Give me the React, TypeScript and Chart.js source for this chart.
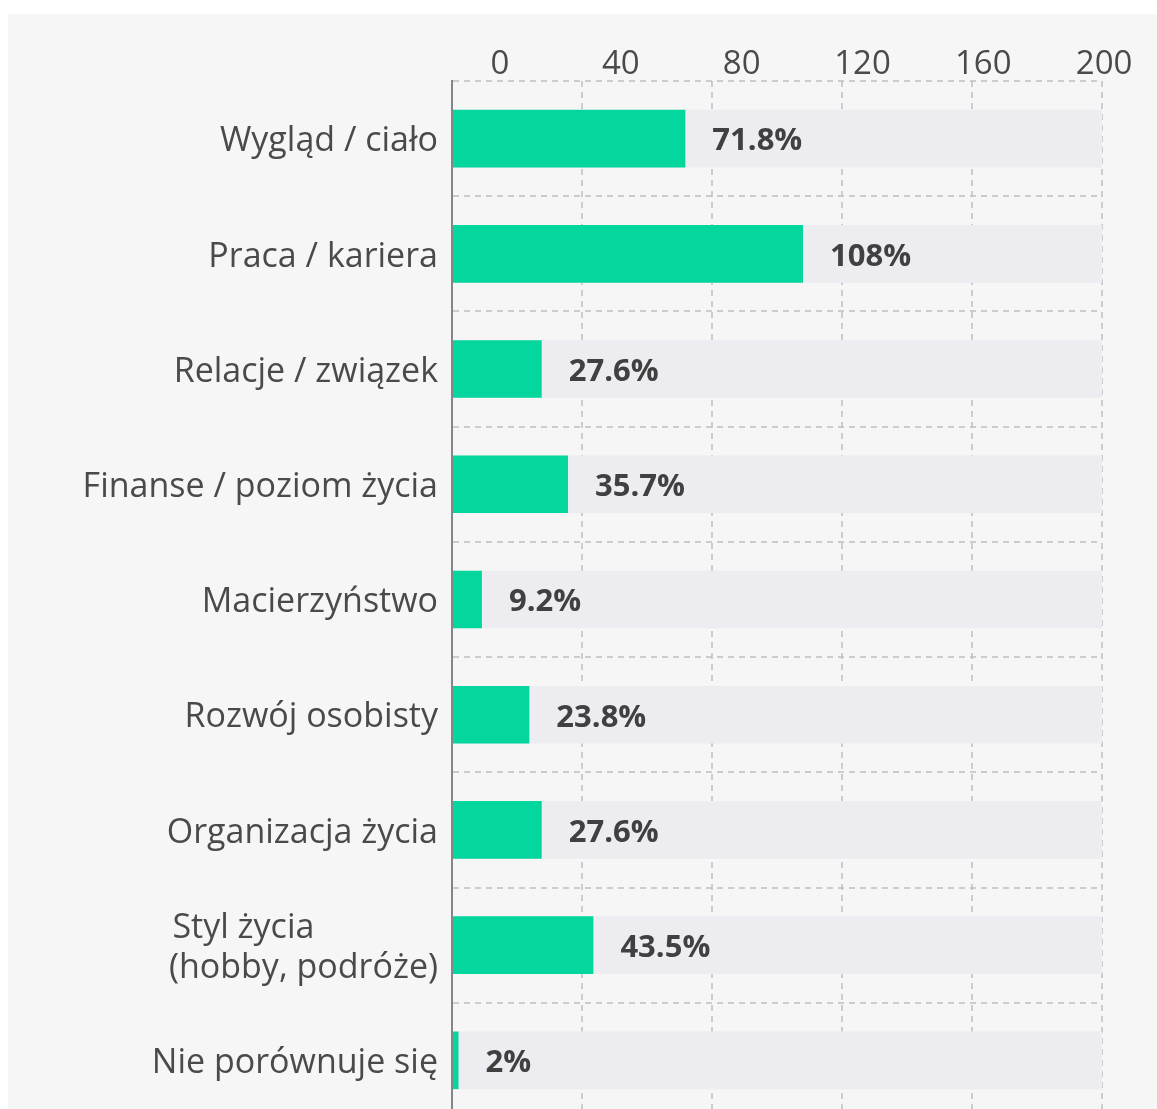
import React, { useEffect, useRef } from "react";
import { Chart, registerables } from "chart.js";

Chart.register(...registerables);

const categories: (string | string[])[] = [
  "Wygląd / ciało",
  "Praca / kariera",
  "Relacje / związek",
  "Finanse / poziom życia",
  "Macierzyństwo",
  "Rozwój osobisty",
  "Organizacja życia",
  ["Styl życia              ", "(hobby, podróże)"],
  "Nie porównuje się",
];
const values = [71.8, 108, 27.6, 35.7, 9.2, 23.8, 27.6, 43.5, 2];
const trackValues = [200, 200, 200, 200, 200, 200, 200, 200, 200];
const xTickValues = [0, 40, 80, 120, 160, 200];

const FONT = "'Open Sans', sans-serif";
const GREEN = "#05d69e";
const TRACK = "#ececf1";
const GRID = "rgba(190,190,195,0.75)";
const TEXT = "#4a4a4a";

const valueLabels = {
  id: "valueLabels",
  afterDraw(chart: any) {
    const ctx = chart.ctx;
    const meta = chart.getDatasetMeta(1);
    ctx.save();
    ctx.font = `700 31px ${FONT}`;
    ctx.fillStyle = "#404040";
    ctx.textAlign = "left";
    ctx.textBaseline = "middle";
    meta.data.forEach((el: any, i: number) => {
      ctx.fillText(`${values[i]}%`, el.x + 27, el.y + 3);
    });
    ctx.restore();
  },
};

export default function App() {
  const ref = useRef<HTMLCanvasElement | null>(null);

  useEffect(() => {
    if (!ref.current) return;
    const chart = new Chart(ref.current, {
      type: "bar",
      data: {
        labels: categories as any,
        datasets: [
          {
            data: trackValues,
            backgroundColor: TRACK,
            grouped: false,
            order: 2,
            barPercentage: 0.5,
            categoryPercentage: 1,
            xAxisID: "x",
          },
          {
            data: values,
            backgroundColor: GREEN,
            grouped: false,
            order: 1,
            barPercentage: 0.5,
            categoryPercentage: 1,
            xAxisID: "x",
          },
        ],
      },
      options: {
        indexAxis: "y",
        responsive: false,
        animation: false,
        events: [],
        layout: { padding: { top: 0, right: 55, bottom: 0, left: 0 } },
        plugins: {
          legend: { display: false },
          tooltip: { enabled: false },
          title: { display: false },
        },
        scales: {
          x: {
            position: "bottom",
            min: 0,
            max: 200,
            z: 1,
            afterBuildTicks: (axis: any) => {
              axis.ticks = xTickValues.map((v) => ({ value: v }));
            },
            afterFit: (scale: any) => {
              scale.height = 0;
            },
            ticks: { display: false },
            grid: {
              drawTicks: false,
              lineWidth: 2,
              color: (c: any) => (c.tick && c.tick.value === 0 ? "rgba(0,0,0,0)" : GRID),
            },
            border: { display: false, dash: [6, 5] },
          } as any,
          x2: {
            position: "top",
            axis: "x",
            min: -15.9,
            max: 199.3,
            afterBuildTicks: (axis: any) => {
              axis.ticks = xTickValues.map((v) => ({ value: v }));
            },
            afterFit: (scale: any) => {
              scale.height = 67;
            },
            ticks: {
              autoSkip: false,
              maxRotation: 0,
              padding: 0,
              color: TEXT,
              font: { family: FONT, size: 33, lineHeight: 1 },
            },
            grid: { display: false, drawTicks: false },
            border: { display: false },
          } as any,
          y: {
            z: 1,
            afterFit: (scale: any) => {
              scale.width = 444;
            },
            ticks: {
              autoSkip: false,
              padding: 14,
              labelOffset: 3,
              color: TEXT,
              font: { family: FONT, size: 34, lineHeight: 1.18 },
            },
            grid: {
              offset: true,
              drawTicks: false,
              lineWidth: 2,
              color: GRID,
            },
            border: { display: true, color: "#85858c", width: 2, dash: [6, 5] },
          } as any,
        },
      },
      plugins: [valueLabels],
    });
    return () => chart.destroy();
  }, []);

  return (
    <div
      style={{
        position: "absolute",
        left: 8,
        top: 14,
        width: 1149,
        height: 1095,
        overflow: "hidden",
        background: "#f6f6f6",
      }}
    >
      <canvas ref={ref} width={1149} height={1138} style={{ display: "block" }} />
    </div>
  );
}
